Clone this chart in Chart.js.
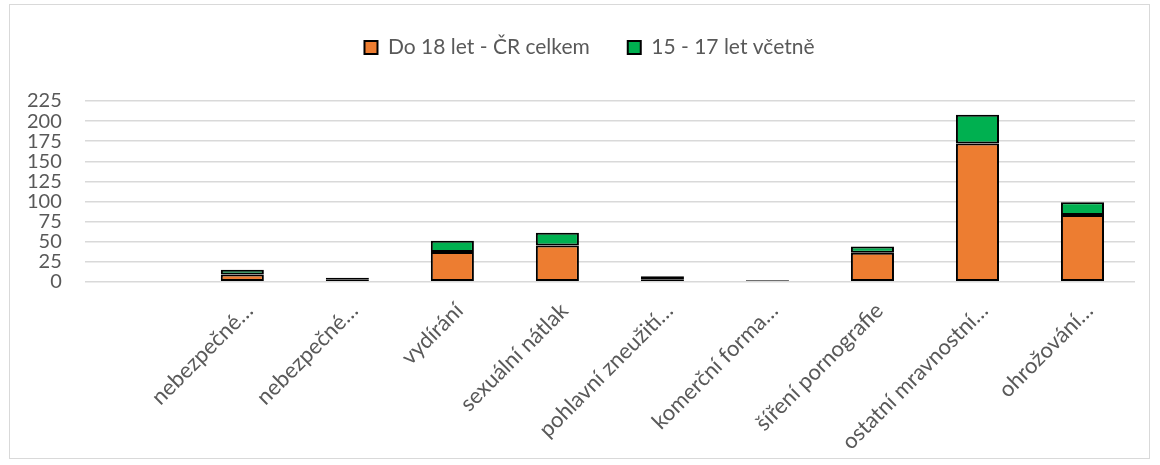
<!DOCTYPE html>
<html>
<head>
<meta charset="utf-8">
<script src="https://cdn.jsdelivr.net/npm/chart.js"></script>
<style>
  body { margin: 0; background: #fff; }
  .frame { position: absolute; left: 9px; top: 4px; width: 1141px; height: 455px; border: 1px solid #d9d9d9; box-sizing: border-box; }
  canvas { display: block; }
</style>
</head>
<body>
<div class="frame"><canvas id="graf"></canvas></div>
<script>
// kategorie (prvni je prazdna)
const kategorie = ['', 'nebezpečné…', 'nebezpečné…', 'vydírání', 'sexuální nátlak', 'pohlavní zneužití…', 'komerční forma…', 'šíření pornografie', 'ostatní mravnostní…', 'ohrožování…'];
const do18 = [null, 9, 3, 37, 45, 3, 1, 36, 172, 83];
const let15az17 = [null, 6, 2, 14, 16, 4, 1, 8, 36, 16];
const yTicks = [0, 25, 50, 75, 100, 125, 150, 175, 200, 225];

const sedy = '#595959';
Chart.defaults.font.family = 'Lato, "Open Sans", sans-serif';
Chart.defaults.color = sedy;

// legenda: posun doprava + mezera pod ni
const upravaLegendy = {
  id: 'upravaLegendy',
  beforeInit(chart) {
    const fit = chart.legend.fit;
    chart.legend.fit = function () {
      fit.bind(chart.legend)();
      this.height += 33;
    };
  },
  afterLayout(chart) {
    chart.legend.left += 20;
    chart.legend.right += 20;
  }
};

new Chart(document.getElementById('graf'), {
  type: 'bar',
  data: {
    labels: kategorie,
    datasets: [
      { label: 'Do 18 let - ČR celkem', data: do18, backgroundColor: '#ed7d31', borderColor: '#000', borderWidth: 2, borderSkipped: false },
      { label: '15 - 17 let včetně', data: let15az17, backgroundColor: '#00b050', borderColor: '#000', borderWidth: 2, borderSkipped: false }
    ]
  },
  plugins: [upravaLegendy],
  options: {
    responsive: true,
    maintainAspectRatio: false,
    animation: false,
    layout: { padding: { left: -6, right: 14, top: -6, bottom: -5 } },
    plugins: {
      legend: {
        position: 'top',
        labels: { font: { size: 21 }, boxWidth: 13, boxHeight: 13, padding: 38, color: sedy },
        onClick: null
      },
      tooltip: { enabled: false }
    },
    datasets: { bar: { barPercentage: 0.41, categoryPercentage: 1 } },
    scales: {
      x: {
        stacked: true,
        grid: { display: false },
        border: { display: false },
        ticks: { minRotation: 45, maxRotation: 45, autoSkip: false, font: { size: 22 }, color: sedy, padding: 8, labelOffset: 7 }
      },
      y: {
        stacked: true,
        min: 0,
        max: 225,
        afterBuildTicks: ax => { ax.ticks = yTicks.map(v => ({ value: v })); },
        grid: { color: '#d9d9d9', lineWidth: 1.5, drawTicks: false },
        border: { display: false },
        ticks: { autoSkip: false, font: { size: 20 }, color: sedy, padding: 23 }
      }
    }
  }
});
</script>
</body>
</html>
